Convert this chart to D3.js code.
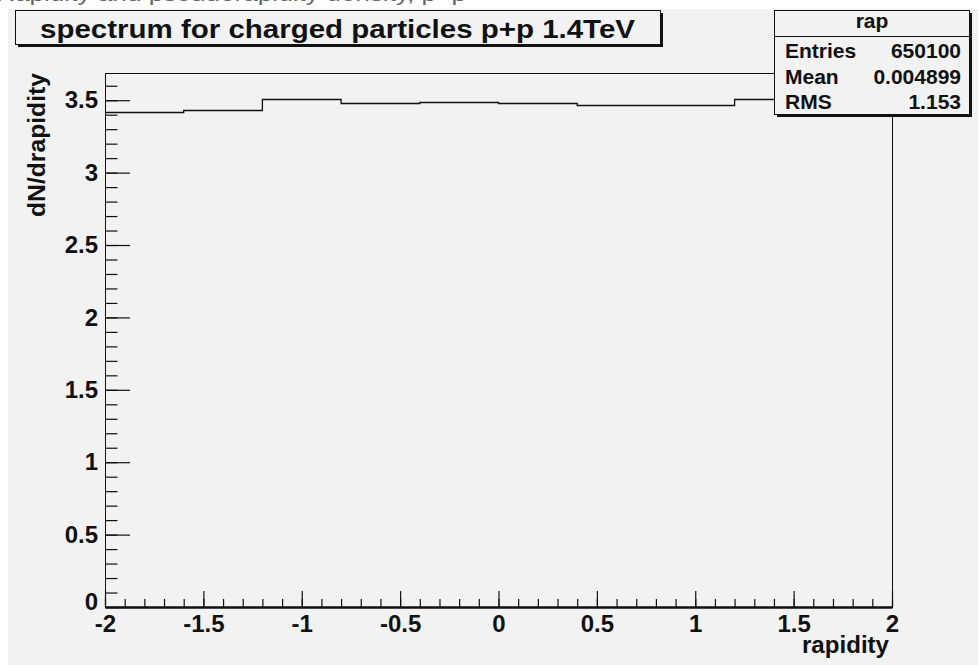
<!DOCTYPE html>
<html>
<head>
<meta charset="utf-8">
<script src="https://cdn.jsdelivr.net/npm/d3@7"></script>
<style>
  body { margin: 0; background: #fff; }
  svg text { font-family: "Liberation Sans", Arial, sans-serif; font-weight: bold; fill: #111; }
</style>
</head>
<body>
<div id="chart"></div>
<script>
// histogram "rap": 10 bins of 0.4 over [-2, 2]
var binEdges = [-2, -1.6, -1.2, -0.8, -0.4, 0, 0.4, 0.8, 1.2, 1.6, 2];
var binValues = [3.42, 3.43, 3.51, 3.48, 3.49, 3.48, 3.47, 3.47, 3.51, 3.46];
var statLabels = ["Entries", "Mean", "RMS"];
var statValues = ["650100", "0.004899", "1.153"];
var histName = "rap";
var titleText = "spectrum for charged particles p+p 1.4TeV";

var width = 978, height = 665,
  padLeft = 105, padRight = 892, padTop = 73, padBottom = 607;

var svg = d3.select("#chart").append("svg")
  .attr("width", width)
  .attr("height", height);

// canvas background, white strip on top and left like the cropped screenshot
svg.append("rect").attr("width", width).attr("height", height).attr("fill", "#fff");
svg.append("rect").attr("x", 8).attr("y", 9).attr("width", width - 8).attr("height", height - 9)
  .attr("fill", "#f2f2f2");

// bits of cut-off text above the canvas
svg.append("text")
  .attr("x", -4).attr("y", 1)
  .attr("textLength", 470)
  .attr("lengthAdjust", "spacingAndGlyphs")
  .style("font-weight", "normal")
  .style("font-size", "20px")
  .style("fill", "#666")
  .text("Rapidity and pseudorapidity density, p+p");

var x = d3.scaleLinear().domain([-2, 2]).range([padLeft, padRight]);
var y = d3.scaleLinear().domain([0, 3.688]).range([padBottom, padTop]);

var fmt = function(d) { return String(+d.toFixed(1)); };

// frame
svg.append("rect")
  .attr("x", padLeft + 0.5).attr("y", padTop + 0.5)
  .attr("width", padRight - padLeft).attr("height", padBottom - padTop)
  .attr("fill", "none").attr("stroke", "#111").attr("stroke-width", 1);

// minor ticks
svg.append("g")
  .attr("transform", "translate(0," + padBottom + ")")
  .call(d3.axisBottom(x).ticks(40).tickSizeInner(-8).tickSizeOuter(0).tickFormat(""))
  .call(g => g.select(".domain").remove());
svg.append("g")
  .attr("transform", "translate(" + padLeft + ",0)")
  .call(d3.axisLeft(y).ticks(40).tickSizeInner(-12.5).tickSizeOuter(0).tickFormat(""))
  .call(g => g.select(".domain").remove());

// major ticks with labels
var xAxis = svg.append("g")
  .attr("transform", "translate(0," + padBottom + ")")
  .call(d3.axisBottom(x).ticks(8).tickSizeInner(-16).tickSizeOuter(0).tickPadding(8).tickFormat(fmt));
xAxis.select(".domain").attr("stroke-width", 2.5).attr("stroke", "#111");

var yAxis = svg.append("g")
  .attr("transform", "translate(" + padLeft + ",0)")
  .call(d3.axisLeft(y).ticks(8).tickSizeInner(-25).tickSizeOuter(0).tickPadding(7).tickFormat(fmt));
yAxis.select(".domain").remove();

svg.selectAll(".tick line").attr("stroke", "#111").attr("stroke-width", 1.2);
xAxis.selectAll("text").style("font-size", "24px").attr("font-family", null);
yAxis.selectAll("text").style("font-size", "24px").attr("font-family", null);
// the zero of the y axis sits a little above its tick, as in the original
yAxis.selectAll("text").filter(d => d === 0).attr("dy", "0.1em");

// histogram step line
var steps = [];
binValues.forEach(function(v, i) {
  steps.push([binEdges[i], v], [binEdges[i + 1], v]);
});
var line = d3.line().x(d => x(d[0])).y(d => Math.round(y(d[1])) + 0.5);
svg.append("path")
  .datum(steps)
  .attr("d", line)
  .attr("fill", "none")
  .attr("stroke", "#111")
  .attr("stroke-width", 1.3);

// axis titles
svg.append("text")
  .attr("x", padRight - 3).attr("y", 653)
  .attr("text-anchor", "end")
  .attr("textLength", 87)
  .attr("lengthAdjust", "spacingAndGlyphs")
  .style("font-size", "23px")
  .text("rapidity");

svg.append("text")
  .attr("transform", "translate(45," + padTop + ") rotate(-90)")
  .attr("text-anchor", "end")
  .attr("textLength", 144)
  .attr("lengthAdjust", "spacingAndGlyphs")
  .style("font-size", "23px")
  .text("dN/drapidity");

// boxes with a drop shadow
function box(x0, y0, w, h) {
  svg.append("rect").attr("x", x0 + 3).attr("y", y0 + 3).attr("width", w).attr("height", h)
    .attr("fill", "#111");
  svg.append("rect").attr("x", x0 + 0.5).attr("y", y0 + 0.5).attr("width", w).attr("height", h)
    .attr("fill", "#f2f2f2").attr("stroke", "#111").attr("stroke-width", 1);
}

box(15, 10, 645, 34);
svg.append("text")
  .attr("x", 40).attr("y", 38)
  .attr("textLength", 595)
  .attr("lengthAdjust", "spacingAndGlyphs")
  .style("font-size", "26px")
  .text(titleText);

// stats box
box(774, 10, 195, 104);
svg.append("line")
  .attr("x1", 774).attr("x2", 969)
  .attr("y1", 36.5).attr("y2", 36.5)
  .attr("stroke", "#111");
svg.append("text")
  .attr("x", 872).attr("y", 28)
  .attr("text-anchor", "middle")
  .style("font-size", "21px")
  .text(histName);

var rowY = [58, 84, 109];
svg.selectAll(".statLabel")
  .data(statLabels)
  .enter().append("text")
  .attr("class", "statLabel")
  .attr("x", 785)
  .attr("y", (d, i) => rowY[i])
  .style("font-size", "21px")
  .text(d => d);
svg.selectAll(".statValue")
  .data(statValues)
  .enter().append("text")
  .attr("class", "statValue")
  .attr("x", 961)
  .attr("y", (d, i) => rowY[i])
  .attr("text-anchor", "end")
  .style("font-size", "21px")
  .text(d => d);
</script>
</body>
</html>
